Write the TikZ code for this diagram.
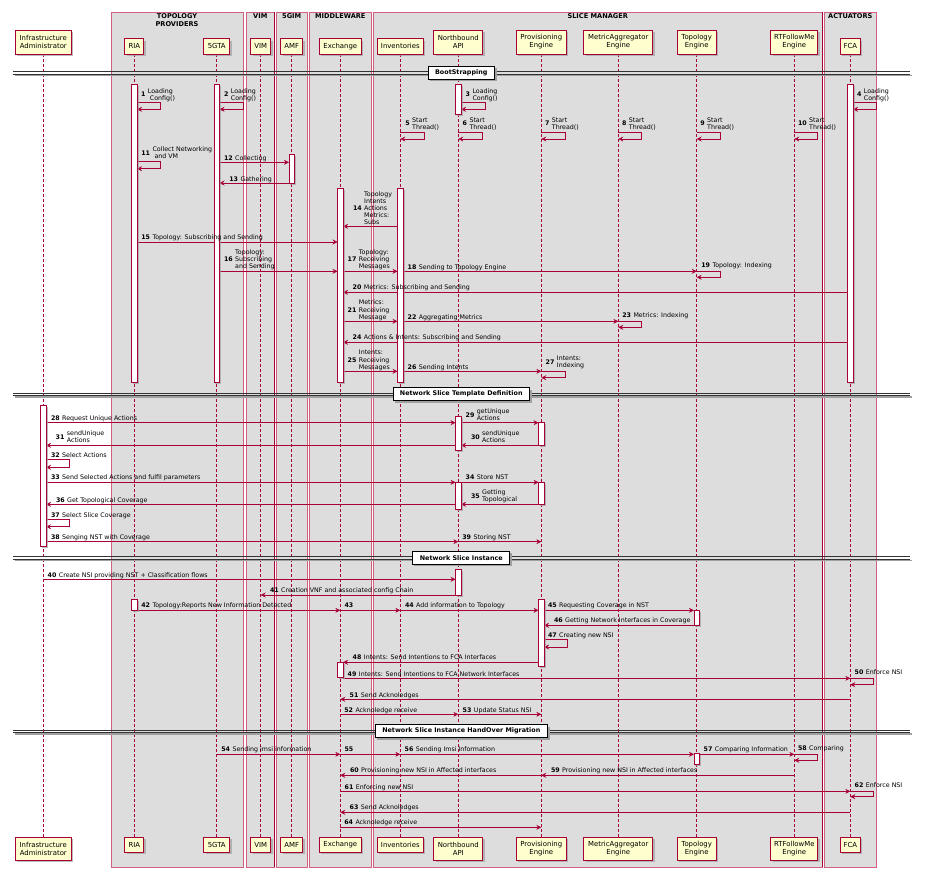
\documentclass[tikz,border=0pt]{standalone}
\usepackage{fontspec}
\setmainfont{DejaVu Sans}
\usetikzlibrary{arrows.meta}
\definecolor{crim}{HTML}{A80036}
\definecolor{grpfill}{HTML}{DDDDDD}
\definecolor{grpline}{HTML}{D3607F}
\definecolor{pfill}{HTML}{FEFECE}
\definecolor{shad}{HTML}{A0A0A0}
\tikzset{
 msg/.style={draw=crim, line width=0.5pt, -{Stealth[length=5pt,width=5pt,inset=1.8pt]}},
 lifel/.style={draw=crim, line width=0.55pt, dash pattern=on 2.5pt off 2.5pt},
 pbox/.style={draw=crim, line width=0.8pt, fill=pfill},
 abox/.style={draw=crim, line width=0.6pt, fill=white},
 grp/.style={draw=grpline, line width=0.6pt, fill=grpfill},
 lbl/.style={inner sep=0pt, font=\fontsize{6.3}{7.1}\selectfont},
 ptext/.style={inner sep=0pt, align=center, font=\fontsize{6.9}{8}\selectfont},
 gtext/.style={inner sep=0pt, align=center, font=\fontsize{6.6}{8}\selectfont\bfseries},
 dbox/.style={draw=black, line width=0.8pt, fill=white, inner xsep=7pt, inner ysep=0pt, minimum height=12.6pt, font=\fontsize{6.4}{8}\selectfont\bfseries},
 dshad/.style={fill=shad, inner xsep=7.4pt, inner ysep=0pt, minimum height=13pt, font=\fontsize{6.4}{8}\selectfont\bfseries}
}
\def\aw{2.8}
\def\xAdm{43.3}\def\xRia{134.3}\def\xGta{216.7}\def\xVim{260.7}\def\xAmf{291.7}
\def\xExc{340.3}\def\xInv{400.3}\def\xNb{458.3}\def\xPrv{541.3}\def\xMet{618.3}
\def\xTop{696.7}\def\xRtf{794.3}\def\xFca{850.3}
% participant: x, half width, top, bottom, name, text
\newcommand\ptcp[6]{%
 \fill[shad,opacity=.7] ({#1-#2+1.8},{#3+1.8}) rectangle ({#1+#2+1.8},{#4+1.8});
 \draw[pbox] ({#1-#2},#3) rectangle ({#1+#2},#4);
 \node[ptext] (#5) at (#1,{(#3+#4)/2}) {#6};}
\newcommand\actv[3]{%
 \fill[shad,opacity=.7] ({#1-\aw+1.5},{#2+1.5}) rectangle ({#1+\aw+1.5},{#3+1.5});
 \draw[abox] ({#1-\aw},#2) rectangle ({#1+\aw},#3);}
\newcommand\selfm[4]{\draw[msg] (#1,#2) -- (#3,#2) -- (#3,#4) -- (#1,#4);}
\newcommand\msl[4]{%
 \node[lbl, anchor=base east] at ({#1-2},{#2+2.3}) {\textbf{#3}};
 \node[lbl, anchor=base west] at (#1,{#2+2.3}) {#4};}
\newcommand\mml[4]{%
 \node[lbl, anchor=base east] at ({#1-2},{#2+2.3}) {\textbf{#3}};
 \node[lbl, anchor=west] at (#1,{#2+0.9}) {\begin{tabular}{@{}l@{}}#4\end{tabular}};}
\newcommand\divd[2]{%
 \draw[shad, line width=1.2pt] (15,{#1+3}) -- (912,{#1+3});
 \draw[black!80, line width=0.55pt] (13.3,{#1-1.2}) -- (910,{#1-1.2}) (13.3,{#1+1.2}) -- (910,{#1+1.2});
 \node[dshad] at (463.3,{#1+2}) {\phantom{#2}};
 \node[dbox] at (461.3,#1) {#2};}
\begin{document}
\begin{tikzpicture}[x=1pt,y=-1pt]
\useasboundingbox (0,0) rectangle (928,881);
% group boxes
\draw[grp] (111,12.3) rectangle (243.3,867);
\draw[grp] (246,12.3) rectangle (274.7,867);
\draw[grp] (276.3,12.3) rectangle (307,867);
\draw[grp] (309.3,12.3) rectangle (371.3,867);
\draw[grp] (373,12.3) rectangle (822.3,867);
\draw[grp] (824.3,12.3) rectangle (876.3,867);
\draw[crim, line width=1.1pt] (274.7,12.3) -- (274.7,867) (822.3,12.3) -- (822.3,867);
\node[gtext] (gtp) at (177,20.3) {TOPOLOGY\\PROVIDERS};
\node[gtext] (gvim) at (260.3,16.3) {VIM};
\node[gtext] (g5g) at (291.7,16.3) {5GIM};
\node[gtext] (gmw) at (340.3,16.3) {MIDDLEWARE};
\node[gtext] (gsm) at (597.7,16.3) {SLICE MANAGER};
\node[gtext] (gact) at (850.3,16.3) {ACTUATORS};
% lifelines
\foreach \x in {\xAdm,\xRia,\xGta,\xVim,\xAmf,\xExc,\xInv,\xNb,\xPrv,\xMet,\xTop,\xRtf,\xFca}
  \draw[lifel] (\x,54) -- (\x,837.3);
% participants top
\ptcp{\xAdm}{28}{30}{54}{adm}{Infrastructure\\Administrator}
\ptcp{\xRia}{9.5}{38.7}{54}{ria}{RIA}
\ptcp{\xGta}{13}{38.7}{54}{gta}{5GTA}
\ptcp{\xVim}{10}{38.7}{54}{vim}{VIM}
\ptcp{\xAmf}{11}{38.7}{54}{amf}{AMF}
\ptcp{\xExc}{21}{38.7}{54}{exc}{Exchange}
\ptcp{\xInv}{23}{38.7}{54}{inv}{Inventories}
\ptcp{\xNb}{24.5}{30}{54}{nb}{Northbound\\API}
\ptcp{\xPrv}{25}{30}{54}{prv}{Provisioning\\Engine}
\ptcp{\xMet}{34.5}{30}{54}{met}{MetricAggregator\\Engine}
\ptcp{\xTop}{19.5}{30}{54}{top}{Topology\\Engine}
\ptcp{\xRtf}{23.5}{30}{54}{rtf}{RTFollowMe\\Engine}
\ptcp{\xFca}{10}{38.7}{54}{fca}{FCA}
% participants bottom
\ptcp{\xAdm}{28}{837.3}{860}{admb}{Infrastructure\\Administrator}
\ptcp{\xRia}{9.5}{837.3}{852.3}{riab}{RIA}
\ptcp{\xGta}{13}{837.3}{852.3}{gtab}{5GTA}
\ptcp{\xVim}{10}{837.3}{852.3}{vimb}{VIM}
\ptcp{\xAmf}{11}{837.3}{852.3}{amfb}{AMF}
\ptcp{\xExc}{21}{837.3}{852.3}{excb}{Exchange}
\ptcp{\xInv}{23}{837.3}{852.3}{invb}{Inventories}
\ptcp{\xNb}{24.5}{837.3}{860}{nbb}{Northbound\\API}
\ptcp{\xPrv}{25}{837.3}{860}{prvb}{Provisioning\\Engine}
\ptcp{\xMet}{34.5}{837.3}{860}{metb}{MetricAggregator\\Engine}
\ptcp{\xTop}{19.5}{837.3}{860}{topb}{Topology\\Engine}
\ptcp{\xRtf}{23.5}{837.3}{860}{rtfb}{RTFollowMe\\Engine}
\ptcp{\xFca}{10}{837.3}{852.3}{fcab}{FCA}
% dividers
\divd{72.7}{BootStrapping}
\divd{394}{Network Slice Template Definition}
\divd{557.7}{Network Slice Instance}
\divd{731}{Network Slice Instance HandOver Migration}
% ---------- messages section 1
\selfm{\xRia+\aw}{102.3}{160.3}{109.3}
\selfm{\xGta+\aw}{102.3}{243.3}{109.3}
\selfm{\xNb+\aw}{102.3}{485.7}{109.3}
\selfm{\xFca+\aw}{102.3}{876.3}{109.3}
\selfm{\xInv}{132.3}{424.3}{139}
\selfm{\xNb}{132.3}{482.3}{139}
\selfm{\xPrv}{132.3}{565.3}{139}
\selfm{\xMet}{132.3}{641.7}{139}
\selfm{\xTop}{132.3}{720.3}{139}
\selfm{\xRtf}{132.3}{817.7}{139}
\selfm{\xRia+\aw}{161.7}{160.3}{168.7}
\draw[msg] (\xGta+\aw,162.3) -- (\xAmf-\aw,162.3);
\draw[msg] (\xAmf-\aw,183) -- (\xGta+\aw,183);
\draw[msg] (\xInv-\aw,226.3) -- (\xExc+\aw,226.3);
\draw[msg] (\xRia+\aw,242) -- (\xExc-\aw,242);
\draw[msg] (\xGta+\aw,271.3) -- (\xExc-\aw,271.3);
\draw[msg] (\xExc+\aw,271.3) -- (\xInv-\aw,271.3);
\draw[msg] (\xInv+\aw,271.3) -- (\xTop,271.3);
\selfm{\xTop}{271.3}{720.3}{277.3}
\draw[msg] (\xFca-\aw,292.3) -- (\xExc+\aw,292.3);
\draw[msg] (\xExc+\aw,321.3) -- (\xInv-\aw,321.3);
\draw[msg] (\xInv+\aw,321.3) -- (\xMet,321.3);
\selfm{\xMet}{321.3}{641.7}{327.3}
\draw[msg] (\xFca-\aw,342.3) -- (\xExc+\aw,342.3);
\draw[msg] (\xExc+\aw,371.3) -- (\xInv-\aw,371.3);
\draw[msg] (\xInv+\aw,371.3) -- (\xPrv,371.3);
\selfm{\xPrv}{371.3}{565.7}{377.7}
% ---------- section 2
\draw[msg] (\xAdm+\aw,422.7) -- (\xNb-\aw,422.7);
\draw[msg] (\xNb+\aw,422.7) -- (\xPrv-\aw,422.7);
\draw[msg] (\xPrv-\aw,445.3) -- (\xNb+\aw,445.3);
\draw[msg] (\xNb-\aw,445.3) -- (\xAdm+\aw,445.3);
\selfm{\xAdm+\aw}{459.7}{69.3}{467.3}
\draw[msg] (\xAdm+\aw,482.3) -- (\xNb-\aw,482.3);
\draw[msg] (\xNb+\aw,482.3) -- (\xPrv-\aw,482.3);
\draw[msg] (\xPrv-\aw,504.3) -- (\xNb+\aw,504.3);
\draw[msg] (\xNb-\aw,504.3) -- (\xAdm+\aw,504.3);
\selfm{\xAdm+\aw}{519.7}{69.3}{526.7}
\draw[msg] (\xAdm+\aw,541.7) -- (\xNb,541.7);
\draw[msg] (\xNb,541.7) -- (\xPrv,541.7);
% ---------- section 3
\draw[msg] (\xAdm,579.3) -- (\xNb-\aw,579.3);
\draw[msg] (\xNb-\aw,595) -- (\xVim,595);
\draw[msg] (\xRia+\aw,610.3) -- (\xExc,610.3);
\draw[msg] (\xExc,610.3) -- (\xInv,610.3);
\draw[msg] (\xInv,610.3) -- (\xPrv-\aw,610.3);
\draw[msg] (\xPrv+\aw,610.3) -- (\xTop-\aw,610.3);
\draw[msg] (\xTop-\aw,625.3) -- (\xPrv+\aw,625.3);
\selfm{\xPrv+\aw}{639.3}{567.3}{647}
\draw[msg] (\xPrv-\aw,662.3) -- (\xExc+\aw,662.3);
\draw[msg] (\xExc+\aw,678.3) -- (\xFca,678.3);
\selfm{\xFca}{678.3}{873.7}{684.7}
\draw[msg] (\xFca,699.3) -- (\xExc,699.3);
\draw[msg] (\xExc,714.3) -- (\xNb,714.3);
\draw[msg] (\xNb,714.3) -- (\xPrv,714.3);
% ---------- section 4
\draw[msg] (\xGta,754.3) -- (\xExc,754.3);
\draw[msg] (\xExc,754.3) -- (\xInv,754.3);
\draw[msg] (\xInv,754.3) -- (\xTop-\aw,754.3);
\draw[msg] (\xTop+\aw,754.3) -- (\xRtf,754.3);
\selfm{\xRtf}{754.3}{817.7}{760.3}
\draw[msg] (\xRtf,775.3) -- (\xPrv,775.3);
\draw[msg] (\xPrv,775.3) -- (\xExc,775.3);
\draw[msg] (\xExc,791.3) -- (\xFca,791.3);
\selfm{\xFca}{791.3}{873.7}{796.7}
\draw[msg] (\xFca,812.3) -- (\xExc,812.3);
\draw[msg] (\xExc,827.3) -- (\xPrv,827.3);
% ---------- activations
\actv{\xRia}{84.3}{382.3}
\actv{\xGta}{84.3}{382.3}
\actv{\xNb}{84.3}{114.3}
\actv{\xFca}{84.3}{382.3}
\actv{\xAmf}{154.3}{183}
\actv{\xExc}{188.3}{382.3}
\actv{\xInv}{188.3}{382.3}
\actv{\xAdm}{405.3}{546}
\actv{\xNb}{416.3}{450}
\actv{\xPrv}{422.3}{445.3}
\actv{\xNb}{482.3}{509}
\actv{\xPrv}{482.3}{504.3}
\actv{\xNb}{569.3}{595}
\actv{\xRia}{599.3}{610.7}
\actv{\xPrv}{599.3}{666.7}
\actv{\xTop}{610.3}{625.3}
\actv{\xExc}{662.3}{677.3}
\actv{\xTop}{753.7}{764.3}
% ---------- labels
\mml{147.7}{94.3}{1}{Loading\\\hspace{2pt}Config()}
\mml{230.7}{94.3}{2}{Loading\\Config()}
\mml{472.3}{94.3}{3}{Loading\\Config()}
\mml{863.7}{94.3}{4}{Loading\\Config()}
\mml{412}{123.3}{5}{Start\\Thread()}
\mml{469.3}{123.3}{6}{Start\\Thread()}
\mml{551.7}{123.3}{7}{Start\\Thread()}
\mml{628.7}{123.3}{8}{Start\\Thread()}
\mml{707}{123.3}{9}{Start\\Thread()}
\mml{809}{123.3}{10}{Start\\Thread()}
\mml{152.3}{152.7}{11}{Collect Networking\\\hspace{2pt}and VM}
\msl{235}{158.3}{12}{Collecting}
\msl{240.3}{178.7}{13}{Gathering}
\mml{364}{208}{14}{Topology\\Intents\\Actions\\Metrics:\\Subs}
\msl{152.3}{237.3}{15}{Topology: Subscribing and Sending}
\mml{235}{259.3}{16}{Topology:\\Subscribing\\and Sending}
\mml{358.7}{259.3}{17}{Topology:\\Receiving\\Messages}
\msl{418.7}{266.7}{18}{Sending to Topology Engine}
\msl{712.3}{265.3}{19}{Topology: Indexing}
\msl{363.7}{287.3}{20}{Metrics: Subscribing and Sending}
\mml{358.7}{309.7}{21}{Metrics:\\Receiving\\Message}
\msl{418.7}{316.7}{22}{Aggregating Metrics}
\msl{633.3}{315.3}{23}{Metrics: Indexing}
\msl{363.7}{337.3}{24}{Actions \& Intents: Subscribing and Sending}
\mml{358.7}{359.7}{25}{Intents:\\Receiving\\Messages}
\msl{418.7}{367}{26}{Sending Intents}
\mml{556.7}{362}{27}{Intents:\\Indexing}
\msl{62}{418.3}{28}{Request Unique Actions}
\mml{476.7}{414.8}{29}{getUnique\\Actions}
\mml{482}{436.8}{30}{sendUnique\\Actions}
\mml{66.7}{436.8}{31}{sendUnique\\Actions}
\msl{62}{455.3}{32}{Select Actions}
\msl{62}{477.3}{33}{Send Selected Actions and fulfil parameters}
\msl{476.7}{477.3}{34}{Store NST}
\mml{482}{496}{35}{Getting\\Topological}
\msl{67}{499.7}{36}{Get Topological Coverage}
\msl{62}{514.7}{37}{Select Slice Coverage}
\msl{62}{536.7}{38}{Senging NST with Coverage}
\msl{473.3}{536.7}{39}{Storing NST}
\msl{58.7}{575.3}{40}{Create NSI providing NST + Classification flows}
\msl{281}{590.3}{41}{Creation VNF and associated config Chain}
\msl{152.3}{605}{42}{Topology:Reports New Information Detected}
\node[lbl, anchor=base west] (n43) at (344.3,607.3) {\textbf{43}};
\msl{416}{605}{44}{Add information to Topology}
\msl{559}{605}{45}{Requesting Coverage in NST}
\msl{565}{620.3}{46}{Getting Network Interfaces in Coverage}
\msl{559}{635.3}{47}{Creating new NSI}
\msl{363.7}{657.3}{48}{Intents: Send Intentions to FCA Interfaces}
\msl{358.7}{673.7}{49}{Intents: Send Intentions to FCA Network Interfaces}
\msl{865.7}{672.3}{50}{Enforce NSI}
\msl{360.7}{694.7}{51}{Send Acknoledges}
\msl{355.3}{709.7}{52}{Acknoledge receive}
\msl{473.7}{709.7}{53}{Update Status NSI}
\msl{232.3}{749.3}{54}{Sending imsi information}
\node[lbl, anchor=base west] (n55) at (344.3,751.6) {\textbf{55}};
\msl{415.7}{749.3}{56}{Sending Imsi Information}
\msl{714.7}{749.3}{57}{Comparing Information}
\msl{809}{748.3}{58}{Comparing}
\msl{562}{770.3}{59}{Provisioning new NSI in Affected interfaces}
\msl{361}{770.3}{60}{Provisioning new NSI in Affected interfaces}
\msl{355.7}{786.7}{61}{Enforcing new NSI}
\msl{865.7}{785.3}{62}{Enforce NSI}
\msl{360.7}{807.3}{63}{Send Acknoledges}
\msl{355.3}{822.3}{64}{Acknoledge receive}
\end{tikzpicture}
\end{document}
